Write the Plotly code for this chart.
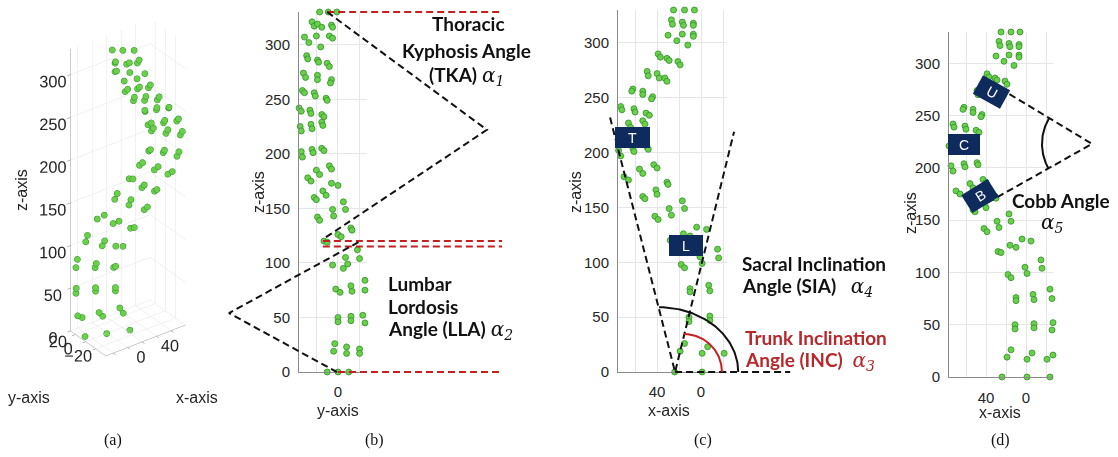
import numpy as np
import plotly.graph_objects as go

W, H = 1118, 457

# ---------------- data: vertebral landmarks (x coronal, y sagittal, z height) ----------------
X_COORD = [24, -1, -24,
           15, 19, -6, -1, -27, -21,
           11, 11, -8, -8, -27, -26,
           10, 10, -7, -8, -24, -26,
           18, 15, 1, -1, -15, -16,
           28, 25, 16, 10, 4, -5,
           42, 39, 29, 27, 17, 15,
           53, 51, 41, 40, 31, 30,
           70, 66, 56, 53, 43, 40,
           75, 73, 62, 61, 49, 48,
           79, 77, 66, 64, 53, 51,
           73, 72, 61, 60, 50, 47,
           62, 63, 53, 53, 44, 45,
           49, 48, 40, 38, 33, 31,
           39, 37, 31, 29, 21, 19,
           30, 22, 17, 12, 7, 7,
           27, 26, 17, 16, 7, 7,
           25, 15, 6]
Y_COORD = [-10, 0, 10,
           -3, -4, 8, 8, 20, 20,
           0, 0, 12, 12, 23, 25,
           -2, 2, 12, 13, 25, 25,
           -5, 5, 7, 9, 18, 20,
           -13, -10, 0, 3, 12, 13,
           -19, -17, -5, -4, 5, 7,
           -22, -20, -14, -11, -6, 0,
           -28, -25, -20, -17, -8, -6,
           -34, -33, -24, -23, -15, -13,
           -35, -34, -25, -24, -15, -14,
           -36, -34, -26, -25, -15, -13,
           -33, -31, -22, -21, -11, -10,
           -32, -30, -19, -19, -6, -7,
           -29, -28, -19, -18, -10, -8,
           -31, -27, -20, -16, -8, -5,
           -24, -22, -19, -15, -6, -5,
           -17, -9, -1]
Z_COORD = [0, 0, 0,
           26, 19, 23, 17, 21, 17,
           50, 46, 51, 47, 52, 45,
           76, 73, 79, 74, 84, 75,
           98, 95, 105, 99, 112, 104,
           120, 119, 126, 124, 132, 130,
           142, 139, 149, 143, 156, 149,
           160, 158, 166, 162, 173, 171,
           178, 175, 185, 181, 189, 186,
           202, 197, 204, 201, 205, 203,
           225, 221, 227, 223, 229, 226,
           242, 239, 240, 237, 236, 234,
           258, 256, 256, 253, 251, 249,
           274, 270, 272, 268, 268, 265,
           290, 287, 286, 284, 283, 280,
           307, 302, 308, 298, 308, 306,
           321, 317, 319, 316, 318, 316,
           330, 330, 330]

Z_TICKS = [0, 50, 100, 150, 200, 250, 300]
LAT_TICKS = [60, 40, 20, 0, -20]
LAT_TEXT = ["", "40", "", "0", ""]
SAG_TICKS = [-20, 0, 20]
SAG_TEXT = ["", "0", ""]

# angle construction lines (panel b: y,z ; panel c/d: x,z)
TKA_Y, TKA_Z = [-10, 138, -12], [330, 222, 123]
LLA_Y, LLA_Z = [19, -101, -1], [119, 54, 0]
RED_Z = [330, 120, 115, 0]
RED_Y0 = [-10, -14, -14, 0]
RED_Y1 = 152
SIA_X, SIA_Z = [82.7, 23.6, -30], [232, 0, 219]
BASE_X, BASE_Z = [23.6, -81], [0, 0]
SIA_ARC = dict(cx=38.2, rx=72, rz=59)
INC_ARC = dict(cx=15.5, rx=34.5, rz=34.6)
COBB_X, COBB_Z = [26, -66, 38], [276, 223, 167]

# ---------------- helpers ----------------
def fx(px):
    return px / W

def fy(py):
    return 1 - py / H

def ext(r0, r1, p0, p1, q0, q1):
    s = (r1 - r0) / (p1 - p0)
    return [r0 + (q0 - p0) * s, r0 + (q1 - p0) * s]

GREEN = "#6ad04a"
GREEN_EDGE = "#2f8f2a"
RED = "#c42020"
RED_TXT = "#b8282a"
NAVY = "#0f2a5c"
TICKC = "#262626"
GRID = "#e6e6e6"
AXC = "#8a8a8a"
TF = dict(family="Liberation Sans, Arial", size=15, color=TICKC)

fig = go.Figure()

# ---------------- panel (a): 3-D ----------------
fig.add_trace(go.Scatter3d(
    x=X_COORD, y=Y_COORD, z=Z_COORD, mode="markers",
    marker=dict(size=3.6, color=GREEN, line=dict(color=GREEN_EDGE, width=0.6)),
    scene="scene", showlegend=False))

ax3 = dict(showbackground=False, gridcolor="#e3e3e3", showline=True, linecolor="#999999",
           zeroline=False, showspikes=False, title=dict(text=""), tickangle=0,
           tickfont=dict(family="Liberation Sans, Arial", size=14, color=TICKC),
           ticks="outside", ticklen=4, tickcolor="#777777")

# ---------------- panels b, c, d: 2-D ----------------
PANELS = {
    "b": dict(xd=(299, 367), yd=(12, 372), xr=(-36.1, 26.9), zr=(0, 330),
              ox=(222, 520), oy=(4, 380), ticks=SAG_TICKS, text=SAG_TEXT, stand=5, xs=6),
    "c": dict(xd=(618, 727), yd=(10, 372), xr=(75.5, -23.6), zr=(0, 330),
              ox=(600, 905), oy=(4, 380), ticks=LAT_TICKS, text=LAT_TEXT, stand=5, xs=6),
    "d": dict(xd=(949, 1053), yd=(32, 377), xr=(77, -27), zr=(0, 330),
              ox=(935, 1116), oy=(20, 385), ticks=LAT_TICKS, text=LAT_TEXT, stand=5, xs=7),
}
main_ids = {"b": 2, "c": 3, "d": 4}
over_ids = {"b": 5, "c": 6, "d": 7}

layout_axes = {}
for key, p in PANELS.items():
    m, o = main_ids[key], over_ids[key]
    layout_axes[f"xaxis{m}"] = dict(
        domain=[fx(p["xd"][0]), fx(p["xd"][1])], range=list(p["xr"]), anchor=f"y{m}",
        tickvals=p["ticks"], ticktext=p["text"], showgrid=True, gridcolor=GRID,
        showline=True, linecolor=AXC, zeroline=False, tickfont=TF, ticks="",
        ticklabelstandoff=p["xs"], fixedrange=True, automargin=False)
    layout_axes[f"yaxis{m}"] = dict(
        domain=[fy(p["yd"][1]), fy(p["yd"][0])], range=list(p["zr"]), anchor=f"x{m}",
        tickvals=Z_TICKS, showgrid=True, gridcolor=GRID, showline=True, linecolor=AXC,
        zeroline=False, tickfont=TF, ticks="", ticklabelstandoff=p["stand"], fixedrange=True,
        automargin=False)
    oxr = ext(p["xr"][0], p["xr"][1], p["xd"][0], p["xd"][1], p["ox"][0], p["ox"][1])
    oyr = ext(p["zr"][0], p["zr"][1], p["yd"][1], p["yd"][0], p["oy"][1], p["oy"][0])
    layout_axes[f"xaxis{o}"] = dict(domain=[fx(p["ox"][0]), fx(p["ox"][1])], range=oxr,
                                    anchor=f"y{o}", visible=False, fixedrange=True,
                                    automargin=False)
    layout_axes[f"yaxis{o}"] = dict(domain=[fy(p["oy"][1]), fy(p["oy"][0])], range=oyr,
                                    anchor=f"x{o}", visible=False, fixedrange=True,
                                    automargin=False)

mk = dict(size=6, color=GREEN, line=dict(color=GREEN_EDGE, width=0.8))
# panel b: sagittal
fig.add_trace(go.Scatter(x=Y_COORD, y=Z_COORD, mode="markers", marker=mk, xaxis="x2",
                         yaxis="y2", cliponaxis=False, showlegend=False))
# panel c, d: coronal
for m in (3, 4):
    fig.add_trace(go.Scatter(x=X_COORD, y=Z_COORD, mode="markers", marker=mk, xaxis=f"x{m}",
                             yaxis=f"y{m}", cliponaxis=False, showlegend=False))

DASH = "7px,4px"
blk = dict(color="#111111", width=2, dash=DASH)
redl = dict(color=RED, width=2, dash=DASH)

# panel b overlay lines
for zz, y0 in zip(RED_Z, RED_Y0):
    fig.add_trace(go.Scatter(x=[y0, RED_Y1], y=[zz, zz], mode="lines", line=redl,
                             xaxis="x5", yaxis="y5", showlegend=False))
fig.add_trace(go.Scatter(x=TKA_Y, y=TKA_Z, mode="lines", line=blk, xaxis="x5", yaxis="y5",
                         showlegend=False))
fig.add_trace(go.Scatter(x=LLA_Y, y=LLA_Z, mode="lines", line=blk, xaxis="x5", yaxis="y5",
                         showlegend=False))

# panel c overlay
fig.add_trace(go.Scatter(x=SIA_X, y=SIA_Z, mode="lines", line=blk, xaxis="x6", yaxis="y6",
                         showlegend=False))
fig.add_trace(go.Scatter(x=BASE_X, y=BASE_Z, mode="lines", line=blk, xaxis="x6", yaxis="y6",
                         showlegend=False))
t = np.linspace(0, np.pi / 2, 60)
fig.add_trace(go.Scatter(x=SIA_ARC["cx"] - SIA_ARC["rx"] * np.cos(t), y=SIA_ARC["rz"] * np.sin(t),
                         mode="lines", line=dict(color="#111111", width=2), xaxis="x6",
                         yaxis="y6", showlegend=False))
fig.add_trace(go.Scatter(x=INC_ARC["cx"] - INC_ARC["rx"] * np.cos(t), y=INC_ARC["rz"] * np.sin(t),
                         mode="lines", line=dict(color=RED, width=2), xaxis="x6",
                         yaxis="y6", showlegend=False))

# panel d overlay
fig.add_trace(go.Scatter(x=COBB_X, y=COBB_Z, mode="lines", line=blk, xaxis="x7", yaxis="y7",
                         showlegend=False))
a = np.radians(np.linspace(148.7, 209.1, 60))
fig.add_trace(go.Scatter(x=COBB_X[1] - 50 * np.cos(a), y=COBB_Z[1] + 48 * np.sin(a),
                         mode="lines", line=dict(color="#111111", width=2), xaxis="x7",
                         yaxis="y7", showlegend=False))

# ---------------- annotations ----------------
anns = []

def ann(text, px, py, size=19, color="#111111", xanchor="center", family="Lato", angle=0):
    anns.append(dict(text=text, x=fx(px), y=fy(py), xref="paper", yref="paper",
                     xanchor=xanchor, yanchor="middle", showarrow=False, textangle=angle,
                     font=dict(family=family, size=size, color=color)))

def alpha(i):
    return (f"<span style='font-family:DejaVu Serif;font-style:italic;font-weight:normal;"
            f"font-size:20px'>α<sub>{i}</sub></span>")

# axis titles
SANS = "Liberation Sans"
ann("z-axis", 22, 190, size=16, family=SANS, angle=-90, color=TICKC)
ann("y-axis", 29, 397, size=16, family=SANS, color=TICKC)
ann("x-axis", 197, 397, size=16, family=SANS, color=TICKC)
ann("z-axis", 258, 192, size=16, family=SANS, angle=-90, color=TICKC)
ann("y-axis", 338, 410, size=16, family=SANS, color=TICKC)
ann("z-axis", 575, 192, size=16, family=SANS, angle=-90, color=TICKC)
ann("x-axis", 669, 410, size=16, family=SANS, color=TICKC)
ann("z-axis", 910, 213, size=16, family=SANS, angle=-90, color=TICKC)
ann("x-axis", 1000, 412, size=16, family=SANS, color=TICKC)

# panel labels
for lab, px in (("(a)", 113), ("(b)", 374), ("(c)", 703), ("(d)", 1000)):
    ann(lab, px, 440, size=16, family="Liberation Serif", color="#111111")

# angle labels
ann("<b>Thoracic</b>", 468, 24)
ann("<b>Kyphosis Angle</b>", 466, 50)
ann("<b>(TKA)</b> " + alpha(1), 466, 76)
ann("<b>Lumbar</b>", 386, 283, xanchor="left")
ann("<b>Lordosis</b>", 386, 306, xanchor="left")
ann("<b>Angle (LLA)</b> " + alpha(2), 386, 330, xanchor="left")
ann("<b>Sacral Inclination</b>", 740, 263, xanchor="left")
ann("<b>Angle (SIA)</b>   " + alpha(4), 740, 287, xanchor="left")
ann("<b>Trunk Inclination</b>", 743, 337, xanchor="left", color=RED_TXT)
ann("<b>Angle (INC)</b>  " + alpha(3), 743, 361, xanchor="left", color=RED_TXT)
ann("<b>Cobb Angle</b>", 1061, 200)
ann(alpha(5), 1052, 223)

# vertebra boxes
shapes = []

def rect(cx, cy, w, h, ang):
    r = np.radians(ang)
    u = np.array([np.cos(r), np.sin(r)])
    v = np.array([-np.sin(r), np.cos(r)])
    c = np.array([cx, cy])
    pts = [c + s1 * w / 2 * u + s2 * h / 2 * v for s1, s2 in ((-1, -1), (1, -1), (1, 1), (-1, 1))]
    path = "M " + " L ".join(f"{fx(p[0]):.5f},{fy(p[1]):.5f}" for p in pts) + " Z"
    shapes.append(dict(type="path", path=path, xref="paper", yref="paper",
                       fillcolor=NAVY, line=dict(width=0)))

for lab, cx, cy, w, h, ang in (("T", 632.5, 137.5, 35, 21, 0), ("L", 686, 245.5, 34, 21, 0),
                               ("C", 964, 144.5, 32, 21, 0), ("U", 991.5, 92, 31, 21, 29),
                               ("B", 980, 196, 31, 21, -32)):
    rect(cx, cy, w, h, ang)
    ann(lab, cx, cy, size=14, color="white", family=SANS, angle=ang)

fig.update_layout(
    template="none",
    width=W, height=H, margin=dict(l=0, r=0, t=0, b=0, pad=0, autoexpand=False),
    paper_bgcolor="white", plot_bgcolor="rgba(0,0,0,0)", showlegend=False,
    annotations=anns, shapes=shapes,
    scene=dict(
        domain=dict(x=[0, fx(256)], y=[fy(374), fy(0)]),
        xaxis=dict(ax3, range=[-30, 80], tickvals=[-20, 0, 20, 40, 60],
                   ticktext=["", "0", "", "40", ""]),
        yaxis=dict(ax3, range=[-40, 30], tickvals=[-20, 0, 20]),
        zaxis=dict(ax3, range=[0, 330], tickvals=Z_TICKS),
        aspectmode="manual", aspectratio=dict(x=0.53, y=0.318, z=1.77),
        camera=dict(eye=dict(x=-0.95, y=-1.28, z=0.98), up=dict(x=0, y=0, z=1),
                    center=dict(x=0, y=0, z=0), projection=dict(type="orthographic")),
        bgcolor="rgba(0,0,0,0)"),
    **layout_axes,
)

fig.write_html("out.html")
